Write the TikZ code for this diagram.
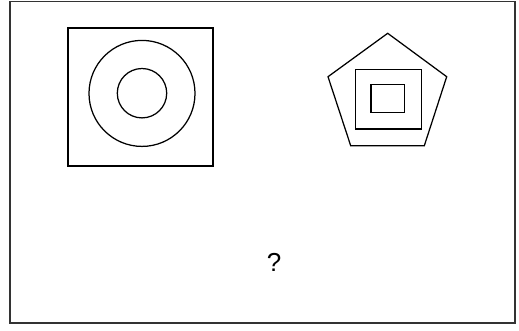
\documentclass[tikz,border=0pt]{standalone}
\usepackage{fontspec}
\setmainfont{Liberation Sans}
\begin{document}
\begin{tikzpicture}[x=1pt,y=-1pt,
  shape line/.style={draw=black,line width=1.25pt},
  frame line/.style={draw=black!80,line width=1.4pt}]
\useasboundingbox (0,0) rectangle (519,330);
\draw[frame line] (9.8,1.6) rectangle (514.8,323);
% left figure
\draw[shape line] (68,28) rectangle (213,166);
\draw[shape line] (142,93.4) circle[radius=53];
\draw[shape line] (142,93.2) circle[radius=24.7];
% right figure
\coordinate (p1) at (387.7,33.3);
\coordinate (p2) at (446.7,76.7);
\coordinate (p3) at (424.3,145.7);
\coordinate (p4) at (350.7,145.7);
\coordinate (p5) at (328,76.7);
\draw[shape line,line join=miter] (p1) -- (p2) -- (p3) -- (p4) -- (p5) -- cycle;
\draw[shape line] (355.3,69.3) rectangle (421.7,129);
\draw[shape line] (371,84.3) rectangle (404.3,112.7);
\node[inner sep=0pt,font=\fontsize{26}{30}\selectfont] (q) at (274,262.5) {?};
\end{tikzpicture}
\end{document}
